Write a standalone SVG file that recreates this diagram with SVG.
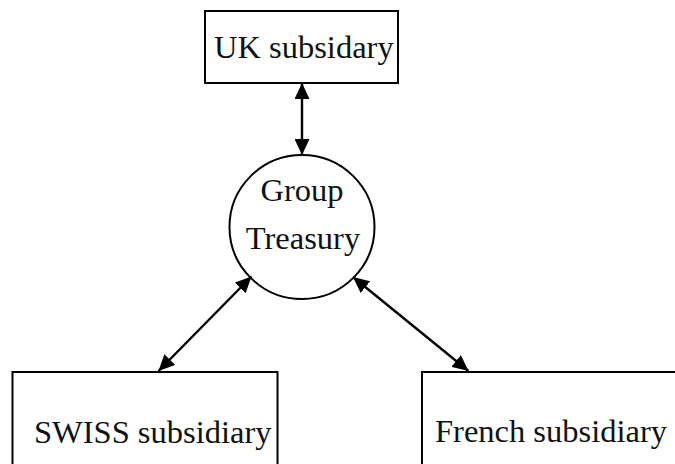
<svg xmlns="http://www.w3.org/2000/svg" width="675" height="464" viewBox="0 0 675 464">
<style>
.box{fill:#fff;stroke:#000;stroke-width:2}
.lbl{font-family:"Liberation Serif","Times New Roman",serif;font-size:32.5px;fill:#111}
.con{stroke:#000;stroke-width:2.4;fill:none;marker-start:url(#ah);marker-end:url(#ah)}
</style>
<defs>
<marker id="ah" markerUnits="userSpaceOnUse" markerWidth="17" markerHeight="15" refX="16" refY="7.5" orient="auto-start-reverse" viewBox="0 0 17 15">
<path d="M0,0 L16,7.5 L0,15 z" fill="#000"/>
</marker>
</defs>
<rect width="675" height="464" fill="#fff"/>
<g id="uk">
<rect class="box" x="205" y="11" width="193" height="72"/>
<text class="lbl" x="214" y="58">UK subsidary</text>
</g>
<g id="treasury">
<ellipse class="box" cx="302" cy="227" rx="72.5" ry="72"/>
<text class="lbl" x="302" y="201" text-anchor="middle">Group</text>
<text class="lbl" x="303" y="249" text-anchor="middle">Treasury</text>
</g>
<g id="swiss">
<rect class="box" x="12.5" y="372" width="265" height="110"/>
<text class="lbl" x="34" y="443">SWISS subsidiary</text>
</g>
<g id="french">
<rect class="box" x="422" y="372" width="280" height="110"/>
<text class="lbl" x="435" y="442">French subsidiary</text>
</g>
<g id="connectors">
<line class="con" x1="302" y1="83" x2="302" y2="155"/>
<line class="con" x1="158.5" y1="371" x2="251.5" y2="276.5"/>
<line class="con" x1="353" y1="277" x2="468.5" y2="371"/>
</g>
</svg>
